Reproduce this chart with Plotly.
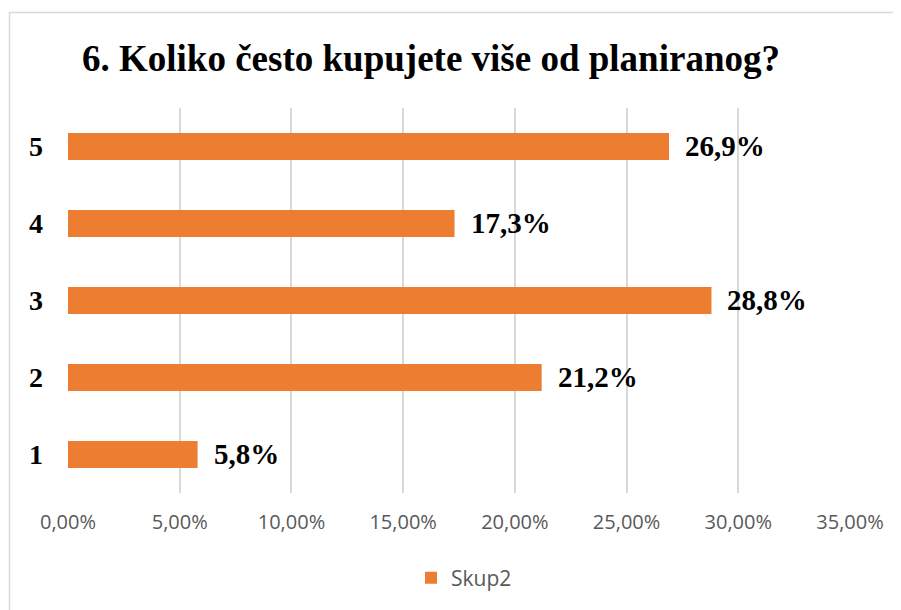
import plotly.graph_objects as go

categories = ["1", "2", "3", "4", "5"]
values = [0.058, 0.212, 0.288, 0.173, 0.269]
labels = ["5,8%", "21,2%", "28,8%", "17,3%", "26,9%"]
x_ticks = [0, 0.05, 0.10, 0.15, 0.20, 0.25, 0.30, 0.35]
series_name = "Skup2"
title_text = "6. Koliko često kupujete više od planiranog?"

W, H = 893, 602
L, R, T, B = 60, 842, 100, 485

fig = go.Figure()
fig.add_trace(go.Bar(
    x=values, y=categories, orientation="h", name=series_name,
    marker=dict(color="#ED7D31", line=dict(width=0)),
    showlegend=True,
))

for i, (v, t) in enumerate(zip(values, labels)):
    fig.add_annotation(x=v, y=i, text="<b>" + t + "</b>", showarrow=False, xanchor="left",
                       xshift=14, yshift=1,
                       font=dict(family="Liberation Serif", size=29, color="black"))

fig.add_shape(type="rect", xref="paper", yref="paper",
              x0=(1.5 - L) / (R - L), x1=(910 - L) / (R - L),
              y0=(B - 620) / (B - T), y1=(B - 4.5) / (B - T),
              line=dict(color="#d9d9d9", width=1.5), fillcolor="rgba(0,0,0,0)", layer="below")

fig.update_layout(
    width=W, height=H,
    margin=dict(l=L, r=W - R, t=T, b=H - B, autoexpand=False),
    paper_bgcolor="white", plot_bgcolor="white",
    separators=",.",
    bargap=0.65,
    title=dict(text="<b>" + title_text + "</b>", x=423 / W, xanchor="center",
               y=1 - 50 / H, yanchor="middle", xref="container", yref="container",
               font=dict(family="Liberation Serif", size=37, color="black")),
    xaxis=dict(range=[0, 0.35], tickvals=x_ticks, tickformat=".2%",
               showgrid=True, gridcolor="#d9d9d9", gridwidth=1.5, zeroline=False,
               showline=False, ticks="", ticklabelstandoff=15, automargin=False,
               tickfont=dict(family="Open Sans", size=20, color="#595959")),
    yaxis=dict(type="category", categoryorder="array", categoryarray=categories,
               showgrid=False, zeroline=False, showline=False, ticks="",
               ticklabelstandoff=24, automargin=False,
               tickfont=dict(family="Liberation Serif", size=28, color="black"),
               tickprefix="<b>", ticksuffix="</b>"),
    legend=dict(orientation="h", x=(456 - L) / (R - L), xanchor="center",
                y=(B - 570) / (B - T), yanchor="middle",
                font=dict(family="Open Sans", size=21, color="#595959")),
)

fig.write_html("out.html")
